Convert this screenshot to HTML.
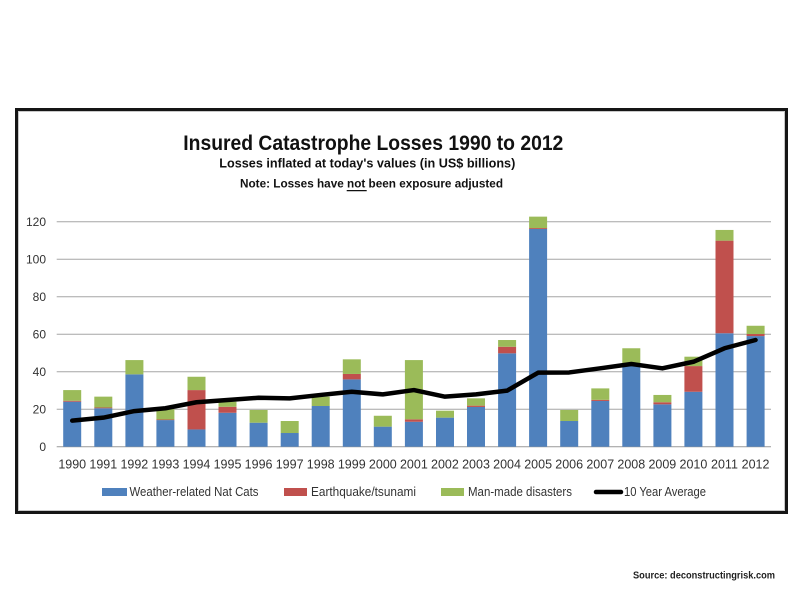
<!DOCTYPE html>
<html><head><meta charset="utf-8"><style>
html,body{margin:0;padding:0;background:#fff;}
svg{display:block;}
text{font-family:"Liberation Sans",Arial,sans-serif;}
</style></head><body>
<svg width="800" height="600" viewBox="0 0 800 600" xmlns="http://www.w3.org/2000/svg">
<rect x="0" y="0" width="800" height="600" fill="#fff"/>
<rect x="16.5" y="109.5" width="770" height="403" fill="#fff" stroke="#151515" stroke-width="3"/>
<rect x="18.5" y="111.5" width="766" height="399" fill="none" stroke="#bbb" stroke-width="0.8"/>

<text x="183.3" y="150" font-size="21" font-weight="bold" fill="#111" textLength="380" lengthAdjust="spacingAndGlyphs">Insured Catastrophe Losses 1990 to 2012</text>
<text x="219.3" y="167.7" font-size="13" font-weight="bold" fill="#111" textLength="296" lengthAdjust="spacingAndGlyphs">Losses inflated at today's values (in US$ billions)</text>
<text x="240" y="187.3" font-size="11.5" font-weight="bold" fill="#111" textLength="263" lengthAdjust="spacingAndGlyphs">Note: Losses have not been exposure adjusted</text>
<line x1="346.7" y1="190.6" x2="366.7" y2="190.6" stroke="#111" stroke-width="1.2"/>

<g stroke="#a6a6a6" stroke-width="1">
<line x1="56.7" y1="221.7" x2="771" y2="221.7"/>
<line x1="56.7" y1="259.2" x2="771" y2="259.2"/>
<line x1="56.7" y1="296.7" x2="771" y2="296.7"/>
<line x1="56.7" y1="334.2" x2="771" y2="334.2"/>
<line x1="56.7" y1="371.7" x2="771" y2="371.7"/>
<line x1="56.7" y1="409.2" x2="771" y2="409.2"/>
<line x1="56.7" y1="446.7" x2="771" y2="446.7" stroke="#999"/>
</g>
<g font-size="12" fill="#333" text-anchor="end">
<text x="46" y="226">120</text>
<text x="46" y="263.5">100</text>
<text x="46" y="301">80</text>
<text x="46" y="338.5">60</text>
<text x="46" y="376">40</text>
<text x="46" y="413.5">20</text>
<text x="46" y="451">0</text>
</g>

<g fill="#4f81bd">
<rect x="63.2" y="401.7" width="18" height="45"/>
<rect x="94.3" y="408.26" width="18" height="38.44"/>
<rect x="125.4" y="374.33" width="18" height="72.37"/>
<rect x="156.4" y="420.08" width="18" height="26.62"/>
<rect x="187.5" y="429.45" width="18" height="17.25"/>
<rect x="218.5" y="412.76" width="18" height="33.94"/>
<rect x="249.6" y="422.7" width="18" height="24"/>
<rect x="280.7" y="433.01" width="18" height="13.69"/>
<rect x="311.7" y="406.01" width="18" height="40.69"/>
<rect x="342.8" y="379.39" width="18" height="67.31"/>
<rect x="373.8" y="426.64" width="18" height="20.06"/>
<rect x="404.9" y="421.76" width="18" height="24.94"/>
<rect x="436.0" y="417.64" width="18" height="29.06"/>
<rect x="467.0" y="406.95" width="18" height="39.75"/>
<rect x="498.1" y="353.33" width="18" height="93.37"/>
<rect x="529.1" y="229.01" width="18" height="217.69"/>
<rect x="560.2" y="421.01" width="18" height="25.69"/>
<rect x="591.3" y="400.95" width="18" height="45.75"/>
<rect x="622.3" y="365.14" width="18" height="81.56"/>
<rect x="653.4" y="404.33" width="18" height="42.37"/>
<rect x="684.4" y="391.76" width="18" height="54.94"/>
<rect x="715.5" y="333.26" width="18" height="113.44"/>
<rect x="746.6" y="336.08" width="18" height="110.62"/>
</g>
<g fill="#c0504d">
<rect x="63.2" y="400.76" width="18" height="0.94"/>
<rect x="94.3" y="407.51" width="18" height="0.75"/>
<rect x="156.4" y="419.51" width="18" height="0.57"/>
<rect x="187.5" y="390.08" width="18" height="39.37"/>
<rect x="218.5" y="406.76" width="18" height="6"/>
<rect x="342.8" y="373.95" width="18" height="5.44"/>
<rect x="404.9" y="419.33" width="18" height="2.43"/>
<rect x="467.0" y="405.64" width="18" height="1.31"/>
<rect x="498.1" y="346.76" width="18" height="6.57"/>
<rect x="529.1" y="228.08" width="18" height="0.93"/>
<rect x="591.3" y="399.83" width="18" height="1.12"/>
<rect x="653.4" y="402.26" width="18" height="2.07"/>
<rect x="684.4" y="366.08" width="18" height="25.68"/>
<rect x="715.5" y="240.64" width="18" height="92.62"/>
<rect x="746.6" y="334.01" width="18" height="2.07"/>
</g>
<g fill="#9bbb59">
<rect x="63.2" y="390.08" width="18" height="10.68"/>
<rect x="94.3" y="396.64" width="18" height="10.87"/>
<rect x="125.4" y="360.08" width="18" height="14.25"/>
<rect x="156.4" y="409.2" width="18" height="10.31"/>
<rect x="187.5" y="376.76" width="18" height="13.32"/>
<rect x="218.5" y="401.7" width="18" height="5.06"/>
<rect x="249.6" y="409.95" width="18" height="12.75"/>
<rect x="280.7" y="421.01" width="18" height="12"/>
<rect x="311.7" y="396.64" width="18" height="9.37"/>
<rect x="342.8" y="359.33" width="18" height="14.62"/>
<rect x="373.8" y="415.76" width="18" height="10.88"/>
<rect x="404.9" y="360.08" width="18" height="59.25"/>
<rect x="436.0" y="410.7" width="18" height="6.94"/>
<rect x="467.0" y="398.33" width="18" height="7.31"/>
<rect x="498.1" y="340.01" width="18" height="6.75"/>
<rect x="529.1" y="216.64" width="18" height="11.44"/>
<rect x="560.2" y="409.95" width="18" height="11.06"/>
<rect x="591.3" y="388.39" width="18" height="11.44"/>
<rect x="622.3" y="348.26" width="18" height="16.88"/>
<rect x="653.4" y="394.95" width="18" height="7.31"/>
<rect x="684.4" y="356.7" width="18" height="9.38"/>
<rect x="715.5" y="229.95" width="18" height="10.69"/>
<rect x="746.6" y="325.76" width="18" height="8.25"/>
</g>

<polyline fill="none" stroke="#000" stroke-width="4.5" stroke-linejoin="round" stroke-linecap="round"
points="72.23,420.64 103.29,417.64 134.35,411.08 165.41,408.26 196.47,402.26 227.53,400.01 258.59,397.76 289.65,398.33 320.71,394.95 351.77,391.76 382.83,394.39 413.89,390.08 444.95,396.64 476.01,394.39 507.07,390.64 538.13,372.64 569.19,372.45 600.25,368.33 631.31,364.01 662.37,368.33 693.43,361.76 724.49,348.26 755.55,340.01"/>

<g font-size="12.5" fill="#333" text-anchor="middle">
<text x="72.23" y="468.3">1990</text>
<text x="103.29" y="468.3">1991</text>
<text x="134.35" y="468.3">1992</text>
<text x="165.41" y="468.3">1993</text>
<text x="196.47" y="468.3">1994</text>
<text x="227.53" y="468.3">1995</text>
<text x="258.59" y="468.3">1996</text>
<text x="289.65" y="468.3">1997</text>
<text x="320.71" y="468.3">1998</text>
<text x="351.77" y="468.3">1999</text>
<text x="382.83" y="468.3">2000</text>
<text x="413.89" y="468.3">2001</text>
<text x="444.95" y="468.3">2002</text>
<text x="476.01" y="468.3">2003</text>
<text x="507.07" y="468.3">2004</text>
<text x="538.13" y="468.3">2005</text>
<text x="569.19" y="468.3">2006</text>
<text x="600.25" y="468.3">2007</text>
<text x="631.31" y="468.3">2008</text>
<text x="662.37" y="468.3">2009</text>
<text x="693.43" y="468.3">2010</text>
<text x="724.49" y="468.3">2011</text>
<text x="755.55" y="468.3">2012</text>
</g>

<rect x="102" y="488" width="25" height="8" fill="#4f81bd"/>
<text x="129.5" y="496" font-size="12.5" fill="#333" textLength="129" lengthAdjust="spacingAndGlyphs">Weather-related Nat Cats</text>
<rect x="284" y="488" width="23" height="8" fill="#c0504d"/>
<text x="311" y="496" font-size="12.5" fill="#333" textLength="105" lengthAdjust="spacingAndGlyphs">Earthquake/tsunami</text>
<rect x="441" y="488" width="23" height="8" fill="#9bbb59"/>
<text x="468" y="496" font-size="12.5" fill="#333" textLength="104" lengthAdjust="spacingAndGlyphs">Man-made disasters</text>
<line x1="596" y1="492" x2="621" y2="492" stroke="#000" stroke-width="4.5" stroke-linecap="round"/>
<text x="624" y="496" font-size="12.5" fill="#333" textLength="82" lengthAdjust="spacingAndGlyphs">10 Year Average</text>

<text x="633" y="578.5" font-size="10" font-weight="bold" fill="#222" textLength="142" lengthAdjust="spacingAndGlyphs">Source: deconstructingrisk.com</text>
</svg>
</body></html>
